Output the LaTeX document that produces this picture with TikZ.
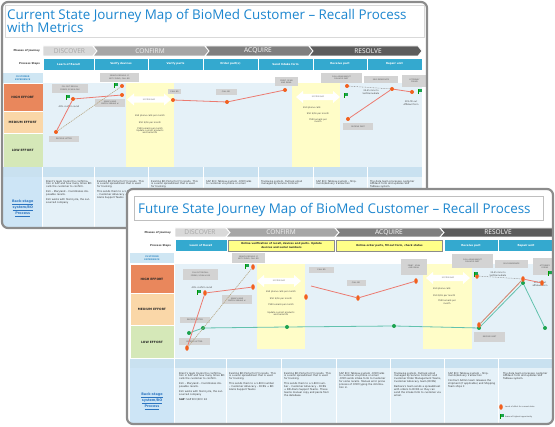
\documentclass[tikz,border=0pt]{standalone}
\usepackage{fontspec}
\setmainfont{DejaVu Sans}
\newfontfamily\titlefont{Open Sans}
\usetikzlibrary{shapes.geometric}
\definecolor{cardborder}{HTML}{8C8C8C}
\definecolor{titleblue}{HTML}{1C86CF}
\definecolor{stepblue}{HTML}{34A9CF}
\definecolor{ceblue}{HTML}{CFE6F3}
\definecolor{cetext}{HTML}{3A8DC5}
\definecolor{highc}{HTML}{E9875C}
\definecolor{medc}{HTML}{FAD7A8}
\definecolor{lowc}{HTML}{D5E8B8}
\definecolor{mainbg}{HTML}{E5F1F8}
\definecolor{stripc}{HTML}{C9E1F0}
\definecolor{backleft}{HTML}{CDE5F6}
\definecolor{linkblue}{HTML}{2B74C0}
\definecolor{gapyellow}{HTML}{FFFDC8}
\definecolor{stepyellow}{HTML}{FFFF88}
\definecolor{boxgray}{HTML}{D3D3D3}
\definecolor{boxtext}{HTML}{555555}
\definecolor{dotorange}{HTML}{F2601E}
\definecolor{linered}{HTML}{EC7A70}
\definecolor{lineteal}{HTML}{62C2AE}
\definecolor{dotgreen}{HTML}{1BA34F}
\definecolor{tanline}{HTML}{B5A582}
\definecolor{phA}{HTML}{D9D9D9}
\definecolor{phAt}{HTML}{A6A6A6}
\definecolor{phB}{HTML}{A6A6A6}
\definecolor{phBt}{HTML}{F2F2F2}
\definecolor{phC}{HTML}{7F7F7F}
\definecolor{phD}{HTML}{5C5C5C}
\tikzset{
  cardline/.style={draw=cardborder, line width=2.2pt, rounded corners=6pt},
  titletext/.style={font=\titlefont\fontsize{13.4}{15}\selectfont, text=titleblue, inner sep=0, anchor=base west},
  rowlabel/.style={font=\bfseries\fontsize{2.6}{3}\selectfont, text=black!80, inner sep=0, anchor=east},
  phasetext/.style={font=\titlefont\fontsize{6.6}{7}\selectfont, inner sep=0},
  stepcell/.style={fill=stepblue, draw=white, line width=0.6pt, text=white, font=\bfseries\fontsize{2.7}{3.1}\selectfont, minimum height=12pt, inner sep=0, align=center},
  ycell/.style={fill=stepyellow, draw=black!45, line width=0.4pt, text=black!85, font=\bfseries\fontsize{2.6}{3.4}\selectfont, minimum height=11pt, inner sep=0, align=center},
  cecell/.style={fill=ceblue, text=cetext, font=\bfseries\fontsize{2.2}{2.6}\selectfont, inner sep=0, align=center},
  effcell/.style={text=black!85, font=\bfseries\fontsize{3}{3.4}\selectfont, inner sep=0, draw=white, line width=0.5pt},
  backlabel/.style={text=linkblue, font=\bfseries\fontsize{3.4}{4.6}\selectfont, align=center, inner sep=0},
  gbox/.style={fill=boxgray, text=boxtext, font=\fontsize{1.9}{2.3}\selectfont, align=center, inner sep=0},
  note/.style={text=black!75, font=\fontsize{2.2}{2.6}\selectfont, align=center, inner sep=0},
  gaptext/.style={text=black!60, font=\fontsize{1.9}{2.2}\selectfont, inner sep=0},
  backtxt/.style={text=black!80, font=\fontsize{2.5}{2.85}\selectfont, align=left, inner sep=0, anchor=north west},
  odot/.style={circle, fill=dotorange, minimum size=4pt, inner sep=0},
  oell/.style={ellipse, fill=dotorange, minimum width=3.6pt, minimum height=5.6pt, inner sep=0},
  gdot/.style={circle, fill=dotgreen, minimum size=4pt, inner sep=0},
  redline/.style={draw=linered, line width=0.8pt},
  tealline/.style={draw=lineteal, line width=0.8pt},
  tandash/.style={draw=tanline, line width=0.6pt, dash pattern=on 1.2pt off 0.8pt},
  graydot/.style={draw=black!45, line width=0.5pt, dash pattern=on 0.8pt off 0.8pt},
  flag/.pic={\fill[dotgreen] (0,0) rectangle (3.5,2.9); \fill[black!40!green] (-0.3,0) rectangle (0.5,4.8);}
}
\newcommand{\phasebar}[6]{%
  \fill[#5, draw=white, line width=0.8pt] (#1,#3) -- (#2,#3) -- ({#2+4},{(#3+#4)/2}) -- (#2,#4) -- (#1,#4) -- ({#1+#6},{(#3+#4)/2}) -- cycle;
}
% double-headed "system gap" arrow: name, x, y, half length
\newcommand{\gaparrow}[4]{%
  \fill[white] ({#2-#4},#3) -- ({#2-#4+7},{#3-6}) -- ({#2-#4+7},{#3-3.2}) -- ({#2+#4-7},{#3-3.2}) -- ({#2+#4-7},{#3-6}) -- ({#2+#4},#3) -- ({#2+#4-7},{#3+6}) -- ({#2+#4-7},{#3+3.2}) -- ({#2-#4+7},{#3+3.2}) -- ({#2-#4+7},{#3+6}) -- cycle;
  \node[gaptext] (#1) at (#2,#3) {SYSTEM GAP};
}
\begin{document}
\begin{tikzpicture}[x=1pt,y=-1pt]
\useasboundingbox (0,0) rectangle (555,427);
% ================= TOP CARD =================
\fill[white, rounded corners=6pt] (2,2) rectangle (427,228);
\begin{scope}
\clip[rounded corners=6pt] (2,2) rectangle (427,228);
\draw[black!15, line width=0.4pt] (5,5) rectangle (424,37);
\node[titletext] (t1a) at (7,20) {Current State Journey Map of BioMed Customer – Recall Process};
\node[titletext] (t1b) at (7,33) {with Metrics};
\node[rowlabel] (pl1) at (40,51) {Phases of Journey};
\node[rowlabel] (ps1) at (40,64) {Process Steps};
\phasebar{43}{93}{46}{56}{phA}{0}
\phasebar{93}{205}{46}{56}{phB}{4}
\phasebar{205}{309}{46}{56}{phC}{4}
\phasebar{309}{418}{46}{56}{phD}{4}
\node[phasetext, text=phAt] (pa1) at (69.5,51) {DISCOVER};
\node[phasetext, text=phBt] (pb1) at (150,51) {CONFIRM};
\node[phasetext, text=white] (pc1) at (258,51) {ACQUIRE};
\node[phasetext, text=white] (pd1) at (368,51) {RESOLVE};
\node[stepcell, minimum width=51pt] (s1a) at (68.5,64) {Learn of Recall};
\node[stepcell, minimum width=54pt] (s1b) at (121,64) {Verify devices};
\node[stepcell, minimum width=55pt] (s1c) at (175.5,64) {Verify parts};
\node[stepcell, minimum width=55pt] (s1d) at (230.5,64) {Order part(s)};
\node[stepcell, minimum width=55pt] (s1e) at (285.5,64) {Send Intake form};
\node[stepcell, minimum width=54pt] (s1f) at (340,64) {Receive part};
\node[stepcell, minimum width=55pt] (s1g) at (394.5,64) {Repair unit};
% left cells
\node[cecell, minimum width=39.5pt, minimum height=10pt] (ce1) at (22.75,78) {CUSTOMER\\EXPERIENCE};
\node[effcell, fill=highc, minimum width=40pt, minimum height=28pt] (he1) at (22.75,97.25) {HIGH EFFORT};
\node[effcell, fill=medc, minimum width=40pt, minimum height=22pt] (me1) at (22.75,122.25) {MEDIUM EFFORT};
\node[effcell, fill=lowc, minimum width=40pt, minimum height=34pt] (le1) at (22.75,150.25) {LOW EFFORT};
\fill[mainbg] (43,83) rectangle (422,167);
\fill[gapyellow] (126,83) rectangle (174,167);
\fill[gapyellow] (292,83) rectangle (340,167);
\fill[stripc] (3,167.5) rectangle (422,177);
\fill[backleft] (3,177.5) rectangle (42.5,227);
\fill[mainbg] (43,177.5) rectangle (422,227);
\foreach \xx in {42.75,94,148,203,258,313,367,422}
  \draw[white, line width=0.8pt] (\xx,167.5) -- (\xx,227);
\node[backlabel] (bl1) at (22.75,208) {\underline{Back-stage}\\\underline{system/BO}\\\underline{Process}};
% back-stage text
\node[backtxt, text width=46pt] (bt1a) at (46,180) {Brent's team tracks the confirmation in SAP and how many times BD calls the customer to confirm.\\[2pt]Kim – Maryland – Coordinates disposable recalls.\\[2pt]Kim works with Stericycle, the outsourced company};
\node[backtxt, text width=47pt] (bt1b) at (97,180) {Existing BD Portal for F3 recalls. This is a excel spreadsheet that is used for tracking.\\[2pt]This sends them to a 1-800 number – Customer Advocacy – DCRS + BD Alaris Support Teams};
\node[backtxt, text width=47pt] (bt1c) at (151,180) {Existing BD Portal for F3 recalls. This is a excel spreadsheet that is used for tracking.};
\node[backtxt, text width=47pt] (bt1d) at (206,180) {SAP ECC Tableau system .COM talks to customer via phone or email};
\node[backtxt, text width=47pt] (bt1e) at (261,180) {Trackwise system, Outlook email managed by Service Contract};
\node[backtxt, text width=47pt] (bt1f) at (316,180) {SAP ECC Tableau system – Shipments/delivery transaction};
\node[backtxt, text width=47pt] (bt1g) at (370,180) {The data team processes customer Affidavit form and updates SAP Tableau system.};
% gray boxes
\node[gbox, minimum width=36pt, minimum height=8.5pt] (fill1) at (70,88.5) {FILL OUT RECALL\\FORMS, SCAN \& FAX};
\node[gbox, minimum width=39pt, minimum height=9pt] (search1) at (119.5,77.5) {SEARCH SERIALS. IF\\NOT FOUND, CALL BD};
\node[gbox, minimum width=30pt, minimum height=8pt] (match1) at (110,103) {SEARCH AND\\MATCH SERIALS \#};
\node[gbox, minimum width=13pt, minimum height=5.5pt] (callbd1) at (174.5,91.5) {CALL BD};
\node[gbox, minimum width=21pt, minimum height=6pt] (callbd2) at (226,92) {CALL BD};
\node[gbox, minimum width=23pt, minimum height=9pt] (print1) at (286.5,81.5) {PRINT, SCAN\\AND EMAIL};
\node[gbox, minimum width=41pt, minimum height=10pt] (again1) at (341.5,78) {CALL AGAIN ABOUT\\DELAYED PART};
\node[gbox, minimum width=34pt, minimum height=7pt] (selfr1) at (381,79.5) {SELF-REMEDIATE};
\node[gbox, minimum width=25pt, minimum height=12pt] (atty1) at (414.5,81) {ATTORNEY\\FORMS};
\node[gbox, minimum width=30pt, minimum height=6pt] (rlet1) at (64,139) {RECEIVE LETTER};
\node[gbox, minimum width=30pt, minimum height=6.5pt] (rpart1) at (358,126.5) {RECEIVE PART};
\node[note] (conf1) at (69,107) {40\% confirm recall};
\gaparrow{gap1}{149}{99.5}{22}
\node[note, align=center, font=\fontsize{2.2}{6.2}\selectfont] (gt1) at (150,122.5) {650 phone calls per month\\950 S/Os per month\\7900 emails per month};
\node[note] (gt1b) at (150,131.5) {Update current products\\and Serial \#s};
\gaparrow{gap2}{318}{97}{22}
\node[note, anchor=west] (gt2a) at (303,108) {650 phone calls};
\node[note] (gt2b) at (318,114) {950 S/Os per month};
\node[note] (gt2c) at (318,120.5) {7900 emails per\\month};
\node[note] (rem1) at (371,92) {30-45 mins to\\Self-Remediate};
\node[note] (aff1) at (411,103) {30\% fill out\\Affidavit form};
% markers
\node[odot] (p1) at (56,132) {};
\node[odot] (p2) at (73,99) {};
\node[odot] (p3a) at (122,86) {};
\node[odot] (p3b) at (122,95) {};
\node[odot] (p4) at (173,100) {};
\node[odot] (p5) at (227,102) {};
\node[odot] (p6) at (285,90) {};
\node[odot] (p7a) at (347,86) {};
\node[odot] (p7) at (348,119) {};
\node[odot] (p8) at (392,89) {};
\node[odot] (p9) at (412,92) {};
\draw[tandash] (p1) -- (p3a);
\draw[redline] (p1) -- (p2) -- (p3b);
\draw[redline] (p4) -- (p5) -- (p6);
\draw[redline] (p7) -- (p8) -- (p9);
\draw[graydot] (p7a) -- (p8);
\pic at (66.5,95) {flag};
\pic at (114,83) {flag};
\pic at (344,93) {flag};
\pic at (418,89) {flag};
\end{scope}
\draw[cardline] (2,2) rectangle (427,228);
% ================= BOTTOM CARD =================
\fill[white, rounded corners=6pt] (127,189) rectangle (553,424);
\begin{scope}
\clip[rounded corners=6pt] (127,189) rectangle (553,424);
\draw[black!25, line width=0.5pt, fill=white] (134,196) rectangle (543,220);
\node[titletext] (t2) at (138,214) {Future State Journey Map of BioMed Customer – Recall Process};
\node[rowlabel] (pl2) at (171,232.5) {Phases of Journey};
\node[rowlabel] (ps2) at (171,245.5) {Process Steps};
\phasebar{175}{226}{228}{237}{phA}{0}
\phasebar{226}{335}{228}{237}{phB}{4}
\phasebar{335}{440}{228}{237}{phC}{4}
\phasebar{440}{560}{228}{237}{phD}{4}
\node[phasetext, text=phAt] (pa2) at (200,232.5) {DISCOVER};
\node[phasetext, text=phBt] (pb2) at (281,232.5) {CONFIRM};
\node[phasetext, text=white] (pc2) at (389,232.5) {ACQUIRE};
\node[phasetext, text=white] (pd2) at (498,232.5) {RESOLVE};
\node[stepcell, minimum width=52pt, minimum height=11.5pt] (s2a) at (201,245.5) {Learn of Recall};
\node[ycell, minimum width=106pt] (s2b) at (281.5,245.5) {Online verification of recall, devices and parts. Update\\devices and serial numbers};
\node[ycell, minimum width=106pt] (s2c) at (389.5,245.5) {Online order parts, fill out form, check status};
\node[stepcell, minimum width=54pt, minimum height=11.5pt] (s2d) at (471,245.5) {Receive part};
\node[stepcell, minimum width=55pt, minimum height=11.5pt] (s2e) at (526,245.5) {Repair unit};
\node[cecell, minimum width=44pt, minimum height=10pt] (ce2) at (152,258) {CUSTOMER\\EXPERIENCE};
\node[effcell, fill=highc, minimum width=44.5pt, minimum height=29pt] (he2) at (152,279) {HIGH EFFORT};
\node[effcell, fill=medc, minimum width=44.5pt, minimum height=32pt] (me2) at (152,309.5) {MEDIUM EFFORT};
\node[effcell, fill=lowc, minimum width=44.5pt, minimum height=33pt] (le2) at (152,342) {LOW EFFORT};
\fill[mainbg] (175,264.5) rectangle (553,358.5);
\fill[gapyellow] (257,264.5) rectangle (305,349);
\fill[gapyellow] (423,264.5) rectangle (472,349);
\fill[stripc] (130,359) rectangle (553,368);
\fill[backleft] (130,368.5) rectangle (174.5,424);
\fill[mainbg] (175,368.5) rectangle (553,424);
\foreach \xx in {174.75,226,281,336,390,444,498}
  \draw[white, line width=0.8pt] (\xx,359) -- (\xx,424);
\node[backlabel] (bl2) at (152,401) {\underline{Back-stage}\\\underline{system/BO}\\\underline{Process}};
\node[backtxt, text width=46pt] (bt2a) at (179,372) {Brent's team tracks the confirmation in SAP and how many times BD calls the customer to confirm.\\[2pt]Kim – Maryland – Coordinates disposable recalls.\\[2pt]Kim works with Stericycle, the outsourced company\\[2pt]\textbf{SAP}: SAP ECC/ECC 26};
\node[backtxt, text width=47pt] (bt2b) at (229,372) {Existing BD Portal for F3 recalls. This is a excel spreadsheet that is used for tracking.\\[2pt]This sends them to a 1-800 number – Customer Advocacy – DCRS + BD Alaris Support Teams};
\node[backtxt, text width=47pt] (bt2c) at (284,372) {Existing BD Portal for F3 recalls. This is a excel spreadsheet that is used for tracking.\\[2pt]This sends them to a 1-800 number – Customer Advocacy – DCRS + BD Alaris Support Teams. These teams manual copy and paste from the database.};
\node[backtxt, text width=47pt] (bt2d) at (339,372) {SAP ECC Tableau system .COM talks to customer via phone or email\\.COM sends intake form to Customer for some recalls. Manual error prone process of COM typing the information in.};
\node[backtxt, text width=47pt] (bt2e) at (394,372) {Trackwise system, Outlook email managed by Service Contract and Customer Order Management Teams, Customer Advocacy team (DCRS)\\[2pt]Barbara's team sends a spreadsheet with orders to DCRS so they can send the intake form to customer via email.};
\node[backtxt, text width=47pt] (bt2f) at (448,372) {SAP ECC Tableau system – Shipments/delivery transaction\\[2pt]Contract Admin team releases the shipment (if applicable) and Shipping Team ships it};
\node[backtxt, text width=47pt] (bt2g) at (503,372) {The data team processes customer Affidavit form and updates SAP Tableau system.};
% gray boxes
\node[gbox, minimum width=35pt, minimum height=11pt] (fill2) at (200.5,274.5) {FILL OUT RECALL\\FORMS, SCAN \& FAX};
\node[gbox, minimum width=33pt, minimum height=10pt] (search2) at (248.5,258) {SEARCH SERIALS. IF\\NOT FOUND, CALL BD};
\node[gbox, minimum width=30pt, minimum height=9pt] (match2) at (237,299.5) {SEARCH AND\\MATCH SERIALS \#};
\node[gbox, minimum width=25pt, minimum height=6.5pt] (callbd3) at (321.5,270) {CALL BD};
\node[gbox, minimum width=19pt, minimum height=6.5pt] (callbd4) at (356,283) {CALL BD};
\node[gbox, minimum width=26pt, minimum height=16pt] (print2) at (414,267) {PRINT, SCAN\\AND EMAIL};
\node[gbox, minimum width=41pt, minimum height=14pt] (again2) at (472.5,261) {CALL AGAIN ABOUT\\DELAYED PART};
\node[gbox, minimum width=33pt, minimum height=8pt] (selfr2) at (511.5,264) {SELF-REMEDIATE};
\node[gbox, minimum width=24pt, minimum height=17pt] (atty2) at (545,266.5) {ATTORNEY\\FORMS};
\node[gbox, minimum width=30pt, minimum height=6pt] (rlet2) at (195,320) {RECEIVE LETTER};
\node[gbox, minimum width=31pt, minimum height=7pt] (rlet3) at (194.5,341.5) {RECEIVE LETTER};
\node[gbox, minimum width=31pt, minimum height=10pt] (rpart2) at (489.5,337) {RECEIVE PART};
\node[note] (conf2) at (202,288) {40\% confirm recall};
\gaparrow{gap3}{279}{281}{22}
\node[note, align=center, font=\fontsize{2.2}{6.2}\selectfont] (gt3) at (281,298.5) {650 phone calls per month\\950 S/Os per month\\7900 emails per month};
\node[note] (gt3b) at (281,313.5) {Update current products\\and Serial \#s};
\gaparrow{gap4}{448}{278}{22}
\node[note, anchor=west] (gt4a) at (433,289) {650 phone calls};
\node[note, anchor=west] (gt4b) at (433,296) {950 S/Os per month};
\node[note] (gt4c) at (447,302) {7900 emails per\\month};
\node[note] (rem2) at (498,274) {30-45 mins to\\Self-Remediate};
\node[note] (aff2) at (540,284) {30\% fill out\\affidavit form};
% markers
\node[gdot] (g1) at (189,333) {};
\node[gdot] (g2) at (203,328) {};
\node[gdot] (g3) at (287,327) {};
\node[gdot] (g4) at (394,326) {};
\node[gdot] (g5) at (479,328) {};
\node[gdot] (g6) at (523,283) {};
\node[gdot] (g7) at (545,328) {};
\draw[tealline] (g1) -- (g2) -- (g3) -- (g4) -- (g5);
\draw[tealline] (g5) -- (g6) -- (g7);
\node[oell] (o1) at (187,348) {};
\node[oell] (o2) at (205,293) {};
\node[oell] (o3a) at (253,267) {};
\node[oell] (o3b) at (253,287) {};
\node[oell] (o4) at (306,297) {};
\node[oell] (o5) at (358,298) {};
\node[oell] (o6) at (416,281) {};
\node[oell] (o7) at (479,325) {};
\node[oell] (o8) at (477,276) {};
\node[oell] (o9) at (523,279) {};
\node[oell] (o10) at (542,283) {};
\coordinate (r4) at (311,286);
\draw[tandash] (o1) -- (o3a);
\draw[redline] (o1) -- (o2) -- (o3b);
\draw[redline] (r4) -- (o5) -- (o6);
\draw[redline] (o7) -- (o9) -- (o10);
\draw[tandash] (o7) -- (o9);
\draw[graydot] (o8) -- (o9);
\pic at (197.5,290) {flag};
\pic at (245,264.5) {flag};
\pic at (474.5,272) {flag};
\pic at (548,271) {flag};
% legend
\node[oell] (lg1) at (501,407) {};
\node[note, anchor=west, font=\fontsize{1.9}{2.2}\selectfont] (lg1t) at (505,407) {Level of effort for current state};
\pic at (500,414.5) {flag};
\node[note, anchor=west, font=\fontsize{1.9}{2.2}\selectfont] (lg2t) at (505,417) {Areas of highest opportunity};
\end{scope}
\draw[cardline] (127,189) rectangle (553,424);
\end{tikzpicture}
\end{document}
